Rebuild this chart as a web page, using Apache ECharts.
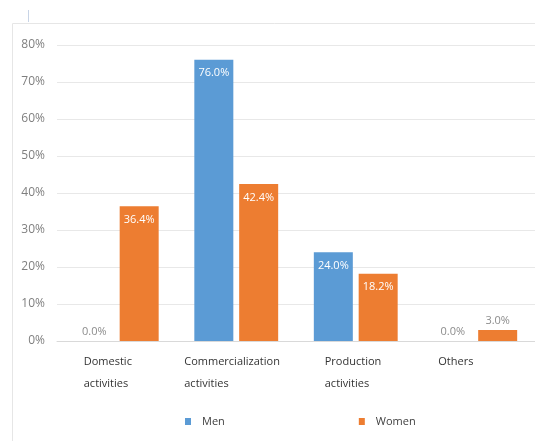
<!DOCTYPE html>
<html><head><meta charset="utf-8">
<script src="https://cdn.jsdelivr.net/npm/echarts@6/dist/echarts.min.js"></script>
<style>html,body{margin:0;padding:0;background:#fff}#c{width:535px;height:441px}</style>
</head><body><div id="c"></div>
<script>
const categories = ["Domestic\nactivities", "Commercialization\nactivities", "Production\nactivities", "Others"];
const seriesNames = ["Men", "Women"];
const menValues = [0.0, 76.0, 24.0, 0.0];
const womenValues = [36.4, 42.4, 18.2, 3.0];
const yTicks = [0, 10, 20, 30, 40, 50, 60, 70, 80];

const labelBlockWidths = [66, 104, 62, 74];
const colors = ["#5B9BD5", "#ED7D31"];

function mkData(vals) {
  return vals.map(v => ({
    value: v,
    label: v > 10
      ? { position: 'insideTop', color: '#ffffff', distance: 8 }
      : { position: 'top', color: '#8c8c8c', distance: 4 }
  }));
}

const chart = echarts.init(document.getElementById('c'));
chart.setOption({
  animation: false,
  textStyle: { fontFamily: 'Open Sans, Liberation Sans, sans-serif' },
  graphic: [
    { type: 'rect', shape: { x: 12.5, y: 23.5, width: 540, height: 430 }, style: { fill: 'none', stroke: '#e6e6e6', lineWidth: 1 }, silent: true },
    { type: 'line', shape: { x1: 28.5, y1: 10, x2: 28.5, y2: 22 }, style: { stroke: '#c8d4e6', lineWidth: 1 }, silent: true }
  ],
  grid: { left: 57, right: 0, top: 45, bottom: 100, containLabel: false },
  legend: {
    bottom: 9, left: 180, itemGap: 134,
    icon: 'rect', itemWidth: 6, itemHeight: 7,
    textStyle: { fontSize: 11, color: '#404040', padding: [0, 0, 0, 6] },
    data: seriesNames
  },
  xAxis: {
    type: 'category', data: categories,
    axisLine: { lineStyle: { color: '#d9d9d9' } },
    axisTick: { show: false },
    axisLabel: {
      interval: 0, margin: 10, color: '#333',
      formatter: (v, i) => v.split('\n').map(s => '{t' + i + '|' + s + '}').join('\n'),
      rich: Object.fromEntries(labelBlockWidths.map((w, i) => ['t' + i, { width: w, align: 'left', fontSize: 11, lineHeight: 22, color: '#333' }]))
    }
  },
  yAxis: {
    type: 'value', min: 0, max: 80, interval: 10,
    axisLabel: { formatter: v => yTicks.includes(v) ? v + '%' : '', color: '#7f7f7f', fontSize: 12, margin: 12 },
    axisLine: { show: false }, axisTick: { show: false },
    splitLine: { lineStyle: { color: '#e8e8e8' } }
  },
  series: [
    { name: seriesNames[0], type: 'bar', barWidth: 39, barGap: '15%', itemStyle: { color: colors[0] },
      label: { show: true, fontSize: 11, formatter: p => p.value.toFixed(1) + '%' }, data: mkData(menValues) },
    { name: seriesNames[1], type: 'bar', barWidth: 39, barGap: '15%', itemStyle: { color: colors[1] },
      label: { show: true, fontSize: 11, formatter: p => p.value.toFixed(1) + '%' }, data: mkData(womenValues) }
  ]
});
</script></body></html>
